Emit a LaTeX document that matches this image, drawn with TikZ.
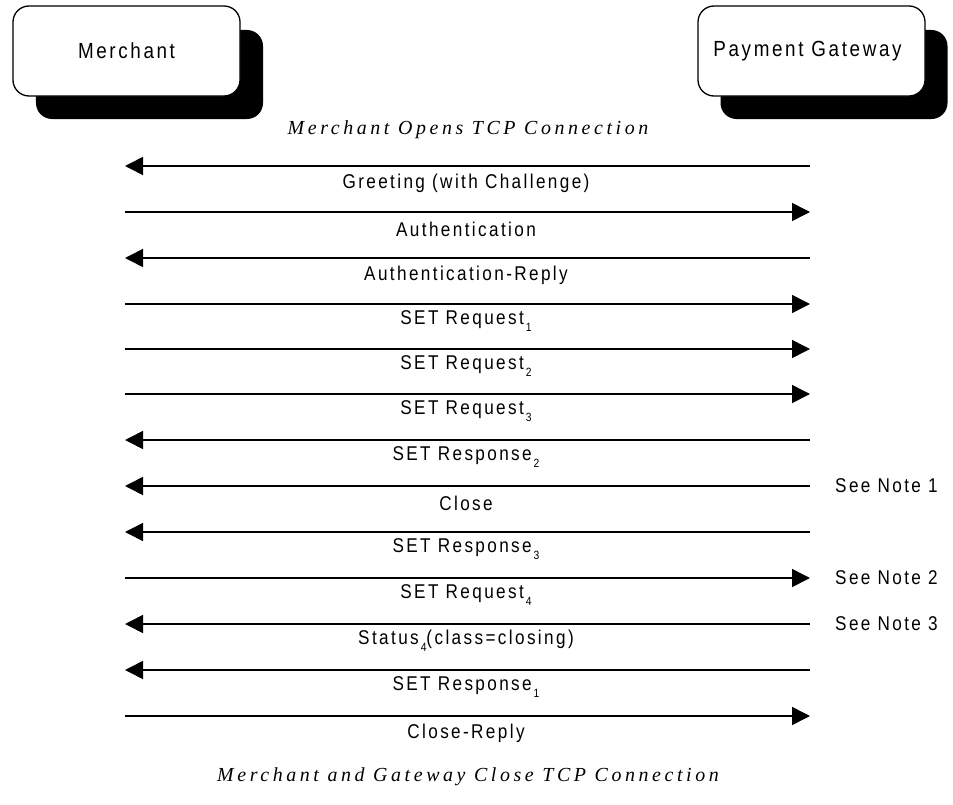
\documentclass[tikz,border=0pt]{standalone}
\usepackage{fontspec}
\setmainfont{Liberation Sans}[FakeStretch=0.86,LetterSpace=12]
\newfontfamily\capfont{Liberation Serif}[LetterSpace=18]
\usetikzlibrary{arrows.meta}
% lowered index after a message name
\newcommand\lowix[1]{\kern2pt\raisebox{-0.65ex}{\fontsize{12}{12}\selectfont#1}}
\begin{document}
\begin{tikzpicture}[x=1bp,y=-1bp,
  actor/.style={draw, line width=1.3bp, rounded corners=16bp, fill=white,
    minimum width=227bp, minimum height=90bp, inner sep=0pt,
    font=\fontsize{22}{24}\selectfont},
  shade/.style={fill=black, rounded corners=16bp,
    minimum width=227bp, minimum height=89bp, inner sep=0pt},
  msg/.style={line width=1.6bp, -{Triangle[length=18bp,width=18bp]}},
  lbl/.style={font=\fontsize{20}{22}\selectfont, inner sep=0pt},
  note/.style={font=\fontsize{20}{22}\selectfont, inner sep=0pt, anchor=west},
  phase/.style={font=\capfont\itshape\fontsize{20}{22}\selectfont, inner sep=0pt}]
\useasboundingbox (0,0) rectangle (953,805);

% participants with offset drop shadows
\node[shade] (mshadow) at (149.5,74.5) {};
\node[actor] (merchant) at (126.5,51) {Merchant};
\node[shade] (gshadow) at (834,74.5) {};
\node[actor] (gateway) at (811.5,51) {\kern-8pt Payment Gateway};

\node[phase] (open) at (468,130) {Merchant Opens TCP Connection};

% message rows: left end l*, right end r*
\coordinate (l1) at (125,166);  \coordinate (r1) at (810,166);
\coordinate (l2) at (125,212);  \coordinate (r2) at (810,212);
\coordinate (l3) at (125,258);  \coordinate (r3) at (810,258);
\coordinate (l4) at (125,304);  \coordinate (r4) at (810,304);
\coordinate (l5) at (125,349);  \coordinate (r5) at (810,349);
\coordinate (l6) at (125,394);  \coordinate (r6) at (810,394);
\coordinate (l7) at (125,440);  \coordinate (r7) at (810,440);
\coordinate (l8) at (125,486);  \coordinate (r8) at (810,486);
\coordinate (l9) at (125,532);  \coordinate (r9) at (810,532);
\coordinate (l10) at (125,578); \coordinate (r10) at (810,578);
\coordinate (l11) at (125,624); \coordinate (r11) at (810,624);
\coordinate (l12) at (125,670); \coordinate (r12) at (810,670);
\coordinate (l13) at (125,716); \coordinate (r13) at (810,716);

\draw[msg] (r1) -- (l1);
\node[lbl] (t1) at (466,183) {Greeting (with Challenge)};
\draw[msg] (l2) -- (r2);
\node[lbl] (t2) at (466,229) {Authentication};
\draw[msg] (r3) -- (l3);
\node[lbl] (t3) at (466,275) {Authentication-Reply};
\draw[msg] (l4) -- (r4);
\node[lbl] (t4) at (466,321) {SET Request\lowix{1}};
\draw[msg] (l5) -- (r5);
\node[lbl] (t5) at (466,366) {SET Request\lowix{2}};
\draw[msg] (l6) -- (r6);
\node[lbl] (t6) at (466,411) {SET Request\lowix{3}};
\draw[msg] (r7) -- (l7);
\node[lbl] (t7) at (466,457) {SET Response\lowix{2}};
\draw[msg] (r8) -- (l8);
\node[lbl] (t8) at (466,503) {Close};
\node[note] (n1) at (835,486) {See Note 1};
\draw[msg] (r9) -- (l9);
\node[lbl] (t9) at (466,549) {SET Response\lowix{3}};
\draw[msg] (l10) -- (r10);
\node[lbl] (t10) at (466,595) {SET Request\lowix{4}};
\node[note] (n2) at (835,578) {See Note 2};
\draw[msg] (r11) -- (l11);
\node[lbl] (t11) at (466,641) {Status\lowix{4}(class=closing)};
\node[note] (n3) at (835,624) {See Note 3};
\draw[msg] (r12) -- (l12);
\node[lbl] (t12) at (466,687) {SET Response\lowix{1}};
\draw[msg] (l13) -- (r13);
\node[lbl] (t13) at (466,733) {Close-Reply};

\node[phase] (close) at (468,777) {Merchant and Gateway Close TCP Connection};
\end{tikzpicture}
\end{document}
